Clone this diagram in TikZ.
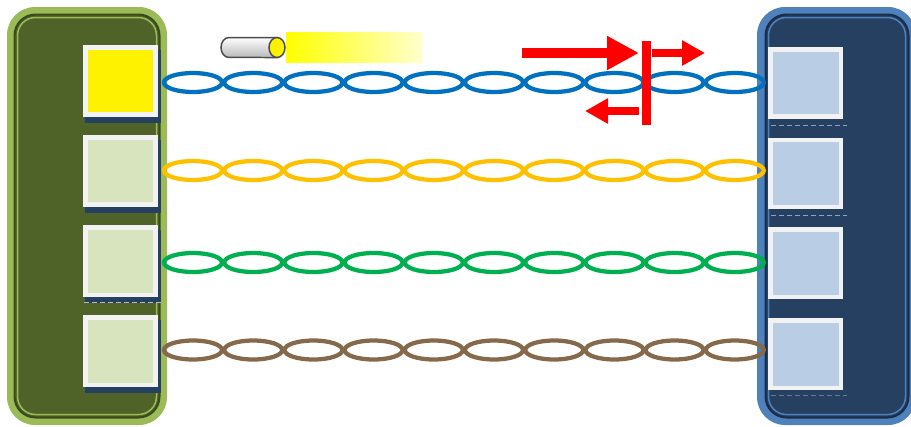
\documentclass[tikz,border=0pt]{standalone}
\usetikzlibrary{arrows.meta, shadows}
\definecolor{leafgreen}{HTML}{9BBB59}
\definecolor{olivedark}{HTML}{4F6228}
\definecolor{olivedeep}{HTML}{3A4A1C}
\definecolor{palegreen}{HTML}{D7E4BD}
\definecolor{steelblue}{HTML}{4F81BD}
\definecolor{navyfill}{HTML}{254061}
\definecolor{navydeep}{HTML}{1A2E47}
\definecolor{paleblue}{HTML}{B9CDE5}
\definecolor{portframe}{HTML}{F2F2F2}
\definecolor{chainblue}{HTML}{0070C0}
\definecolor{chainorange}{HTML}{FFC000}
\definecolor{chaingreen}{HTML}{00B050}
\definecolor{chainbrown}{HTML}{85694A}
\definecolor{lightyellow}{HTML}{FFFFCC}
\definecolor{dashgrey}{HTML}{8EA3BE}

\begin{document}
\begin{tikzpicture}[x=0.02cm, y=-0.02cm,
    port/.style={draw=portframe, line width=0.09cm, minimum width=1.41cm, minimum height=1.35cm, inner sep=0pt},
    lport/.style={port, fill=palegreen, drop shadow={shadow xshift=0.04cm, shadow yshift=-0.1cm, shadow scale=1.08, fill=navyfill, opacity=1}},
    rport/.style={port, fill=paleblue},
    ring/.style={line width=0.085cm, x radius=0.58cm, y radius=0.19cm},
    bigarrow/.style={red, line width=0.2cm, -{Triangle[length=0.64cm, width=0.64cm]}},
    smallarrow/.style={red, line width=0.16cm, -{Triangle[length=0.46cm, width=0.48cm]}}]
\useasboundingbox (0,0) rectangle (911,426);

\fill[leafgreen, rounded corners=0.56cm] (7,7) rectangle (167,425);
\draw[olivedeep, fill=olivedark, line width=0.04cm, rounded corners=0.42cm] (14.5,14.5) rectangle (159.5,417.5);
\draw[leafgreen, line width=0.03cm, rounded corners=0.36cm] (17.5,17.5) rectangle (156.5,414.5);

\fill[steelblue, rounded corners=0.56cm] (757,7) rectangle (916,425);
\draw[navydeep, fill=navyfill, line width=0.04cm, rounded corners=0.42cm] (765.5,14.5) rectangle (908.5,417.5);
\draw[steelblue, line width=0.03cm, rounded corners=0.36cm] (768.5,17.5) rectangle (905.5,414.5);

\node[lport, fill=yellow] (l1) at (120.5,81) {};
\node[lport] (l2) at (120.5,171) {};
\node[lport] (l3) at (120.5,261) {};
\node[lport] (l4) at (120.5,351) {};
\draw[gray!55, line width=0.02cm, dash pattern=on 0.1cm off 0.06cm] (84,302) -- (161,302);

\node[rport] (r1) at (805.5,83) {};
\node[rport] (r2) at (805.5,173.5) {};
\node[rport] (r3) at (805.5,263) {};
\node[rport] (r4) at (805.5,354) {};
\draw[dashgrey, line width=0.02cm, dash pattern=on 0.1cm off 0.06cm] (771,125) -- (847,125);
\draw[dashgrey, line width=0.02cm, dash pattern=on 0.1cm off 0.06cm] (771,215) -- (847,215);
\draw[dashgrey!60!navyfill, line width=0.02cm, dash pattern=on 0.1cm off 0.06cm] (771,395) -- (847,395);

\foreach \cx in {193,253.2,313.4,373.6,433.8,494,554.2,614.4,674.6,734.8} {
    \draw[ring, chainblue] (\cx,82.5) ellipse [];
    \draw[ring, chainorange] (\cx,170.5) ellipse [];
    \draw[ring, chaingreen] (\cx,262.5) ellipse [];
    \draw[ring, chainbrown] (\cx,350) ellipse [];
}

\draw[gray!60!black, line width=0.03cm, top color=white, bottom color=gray!55] (277,37.5) -- (229,37.5) arc[start angle=90, end angle=270, x radius=0.16cm, y radius=0.2cm] -- (277,57.5) -- cycle;
\draw[gray!60!black, line width=0.03cm, fill=yellow] (277,47.5) ellipse [x radius=0.16cm, y radius=0.2cm];
\fill[left color=yellow, right color=lightyellow] (286,32) rectangle (422,62);

\coordinate (barTop) at (646,41);
\coordinate (barBot) at (646,125);
\draw[red, line width=0.18cm] (barTop) -- (barBot);
\draw[bigarrow] (522,53) -- (639,53);
\draw[smallarrow] (652,53) -- (705,53);
\draw[smallarrow] (639,111) -- (585,111);

\end{tikzpicture}
\end{document}
